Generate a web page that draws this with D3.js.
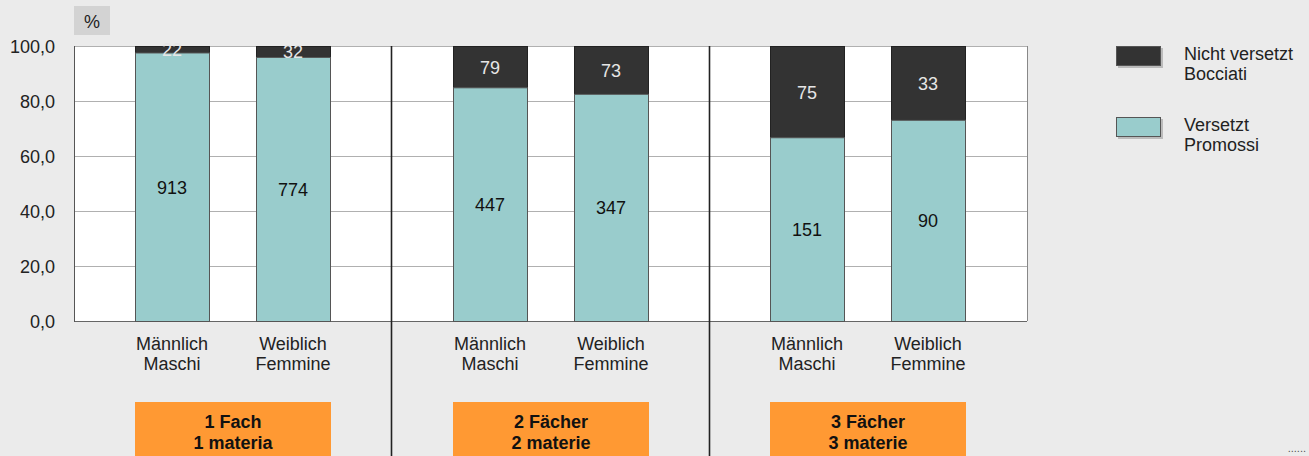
<!DOCTYPE html>
<html>
<head>
<meta charset="utf-8">
<script src="https://cdn.jsdelivr.net/npm/d3@7"></script>
<style>
  body { margin: 0; background: #ebebeb; }
  svg { display: block; font-family: "Liberation Sans", Arial, sans-serif; }
</style>
</head>
<body>
<div id="chart"></div>
<script>
var width = 1309,
    height = 456;

// data
let groups = [["1 Fach", "1 materia"], ["2 Fächer", "2 materie"], ["3 Fächer", "3 materie"]];
let sexes = [["Männlich", "Maschi"], ["Weiblich", "Femmine"]];
let promoted = [[913, 774], [447, 347], [151, 90]];
let failed = [[22, 32], [79, 73], [75, 33]];
let yTicks = [0, 20, 40, 60, 80, 100];
let legendItems = [
    { lines: ["Nicht versetzt", "Bocciati"], color: "#333333" },
    { lines: ["Versetzt", "Promossi"], color: "#99cccc" }
];

var svg = d3.select("#chart").append("svg")
    .attr("width", width)
    .attr("height", height);

let plotLeft = 74, plotRight = 1027, plotTop = 46, plotBottom = 321;
let fs = 18;

let yScale = d3.scaleLinear()
    .domain([0, 100])
    .range([plotBottom, plotTop]);

let xGroup = d3.scaleBand()
    .domain(d3.range(groups.length))
    .range([plotLeft, plotLeft + 3 * 317.5]);

// bar positions inside one group
let xSex = d3.scaleBand()
    .domain(d3.range(sexes.length))
    .range([61, 256])
    .paddingInner(0.39);

// plot background
svg.append("rect")
    .attr("x", plotLeft).attr("y", plotTop)
    .attr("width", plotRight - plotLeft).attr("height", plotBottom - plotTop)
    .attr("fill", "#ffffff");

// grid
svg.append("g")
    .selectAll("line")
    .data(yTicks)
    .enter().append("line")
    .attr("x1", plotLeft).attr("x2", plotRight)
    .attr("y1", d => yScale(d) + 0.5).attr("y2", d => yScale(d) + 0.5)
    .attr("stroke", d => d == 0 ? "#666" : "#b0b0b0")
    .attr("stroke-width", 1);

svg.append("line")
    .attr("x1", plotRight + 0.5).attr("x2", plotRight + 0.5)
    .attr("y1", plotTop).attr("y2", plotBottom)
    .attr("stroke", "#888");
svg.append("line")
    .attr("x1", plotLeft + 0.5).attr("x2", plotLeft + 0.5)
    .attr("y1", plotTop).attr("y2", plotBottom + 1)
    .attr("stroke", "#555");

// y axis labels
svg.append("g")
    .selectAll("text")
    .data(yTicks)
    .enter().append("text")
    .attr("x", 55)
    .attr("y", d => yScale(d) + 7)
    .attr("text-anchor", "end")
    .attr("font-size", fs)
    .attr("fill", "#222")
    .text(d => d3.format(".1f")(d).replace(".", ","));

// % box
svg.append("rect")
    .attr("x", 74).attr("y", 6).attr("width", 36).attr("height", 29)
    .attr("fill", "#d3d3d3");
svg.append("text")
    .attr("x", 92).attr("y", 28)
    .attr("text-anchor", "middle")
    .attr("font-size", fs)
    .attr("fill", "#222")
    .text("%");

// separators
for (let g = 1; g < groups.length; g++) {
    let sx = Math.round(xGroup(g) - 0.5) + 0.5;
    svg.append("line")
        .attr("x1", sx).attr("x2", sx)
        .attr("y1", plotTop).attr("y2", height)
        .attr("stroke", "#222")
        .attr("stroke-width", 1.6);
}

// bars
for (let g in groups) {
    let gx = xGroup(+g);
    for (let s in sexes) {
        let total = promoted[g][s] + failed[g][s];
        let pPct = promoted[g][s] / total * 100;
        let bx = Math.round(gx + xSex(+s));
        let bw = Math.round(xSex.bandwidth());

        svg.append("rect")
            .attr("x", bx + 0.5).attr("y", yScale(100) + 0.5)
            .attr("width", bw).attr("height", yScale(pPct) - yScale(100))
            .attr("fill", "#333333")
            .attr("stroke", "#222");
        svg.append("rect")
            .attr("x", bx + 0.5).attr("y", yScale(pPct) + 0.5)
            .attr("width", bw).attr("height", yScale(0) - yScale(pPct))
            .attr("fill", "#99cccc")
            .attr("stroke", "#555");

        svg.append("text")
            .attr("x", bx + bw / 2)
            .attr("y", (yScale(100) + yScale(pPct)) / 2 + 7)
            .attr("text-anchor", "middle")
            .attr("font-size", fs)
            .attr("fill", "#e6e6e6")
            .text(failed[g][s]);
        svg.append("text")
            .attr("x", bx + bw / 2)
            .attr("y", (yScale(pPct) + yScale(0)) / 2 + 7)
            .attr("text-anchor", "middle")
            .attr("font-size", fs)
            .attr("fill", "#111")
            .text(promoted[g][s]);

        // category label
        svg.append("text")
            .attr("text-anchor", "middle")
            .attr("font-size", fs)
            .attr("fill", "#222")
            .selectAll("tspan")
            .data(sexes[s])
            .enter().append("tspan")
            .attr("x", bx + bw / 2)
            .attr("y", (d, i) => 349.5 + i * 20)
            .text(d => d);
    }

    // group box
    let boxX = Math.round(gx + xSex(0));
    let boxW = Math.round(xSex(1) + xSex.bandwidth() - xSex(0)) + 1;
    svg.append("rect")
        .attr("x", boxX).attr("y", 402)
        .attr("width", boxW).attr("height", 60)
        .attr("fill", "#ff9933");
    svg.append("text")
        .attr("text-anchor", "middle")
        .attr("font-size", fs)
        .attr("font-weight", "bold")
        .attr("fill", "#111")
        .selectAll("tspan")
        .data(groups[g])
        .enter().append("tspan")
        .attr("x", boxX + boxW / 2)
        .attr("y", (d, i) => 427.5 + i * 21)
        .text(d => d);
}

// legend
let legend = svg.append("g");
legendItems.forEach(function (d, i) {
    let ly = 46 + i * 71;
    legend.append("rect")
        .attr("x", 1118).attr("y", ly + 2)
        .attr("width", 45).attr("height", 20)
        .attr("fill", "#bbb");
    legend.append("rect")
        .attr("x", 1116.5).attr("y", ly + 0.5)
        .attr("width", 44).attr("height", 19)
        .attr("fill", d.color)
        .attr("stroke", "#555");
    legend.append("text")
        .attr("font-size", fs)
        .attr("fill", "#222")
        .selectAll("tspan")
        .data(d.lines)
        .enter().append("tspan")
        .attr("x", 1184)
        .attr("y", (t, j) => ly + 13.5 + j * 20)
        .text(t => t);
});

svg.append("text")
    .attr("x", 1306).attr("y", 452)
    .attr("text-anchor", "end")
    .attr("font-size", 11)
    .attr("fill", "#555")
    .text("......");
</script>
</body>
</html>
